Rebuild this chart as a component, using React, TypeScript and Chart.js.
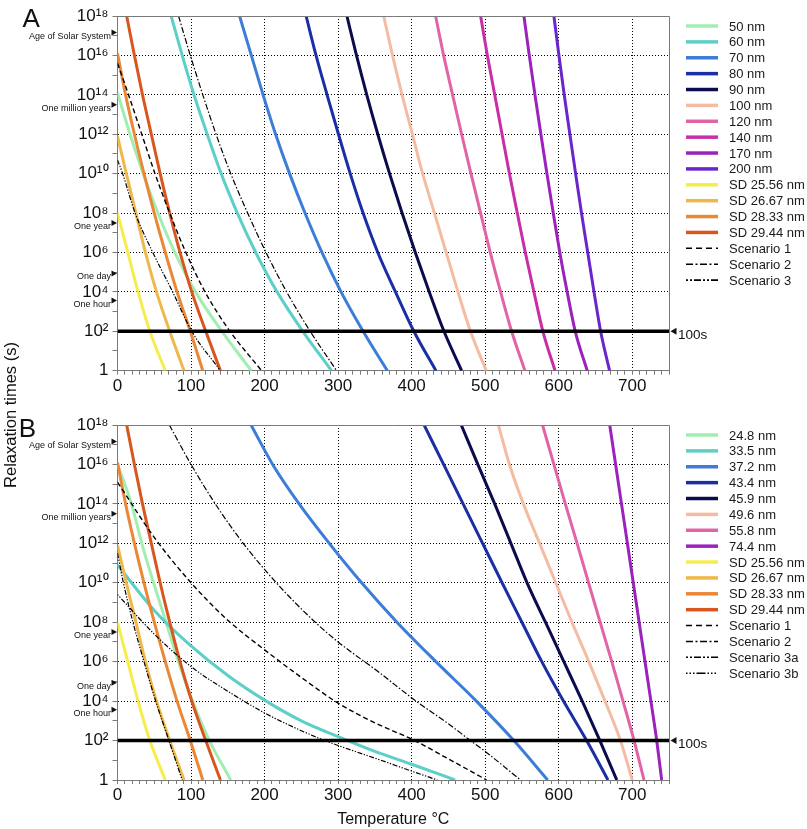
import React, { useEffect, useRef } from 'react';
import { Chart, registerables } from 'chart.js';

Chart.register(...registerables);

const FONT = "'Liberation Sans', Arial, Helvetica, sans-serif";

// ---- DATA: each curve is a list of [temperature °C, log10(relaxation time in s)] ----
// Single-domain (SD) curves, identical in both panels
const SD_25_56_NM = [[0, 8], [14, 6], [28, 4], [44, 2], [65, 0]];
const SD_26_67_NM = [[0, 11.9], [12, 10], [25, 8], [38, 6], [53, 4], [71, 2], [90.5, 0]];
const SD_28_33_NM = [[0, 16.1], [11, 14], [23, 12], [36, 10], [50, 8], [65, 6], [81, 4], [99, 2], [116, 0]];
const SD_29_44_NM = [[12.5, 18], [23, 16], [34, 14], [46, 12], [58, 10], [71, 8], [85, 6], [101, 4], [120, 2], [140, 0]];

// Panel A
const A_50_NM = [[0, 14.1], [17, 12], [35, 10], [55, 8], [78, 6], [106, 4], [142, 2], [182, 0]];
const A_60_NM = [[73, 18], [88, 16], [104, 14], [122, 12], [141, 10], [163, 8], [188, 6], [217, 4], [252, 2], [291, 0]];
const A_70_NM = [[166, 18], [182, 16], [198, 14], [215, 12], [234, 10], [255, 8], [278, 6], [304, 4], [334, 2], [367, 0]];
const A_80_NM = [[256.5, 18], [270, 16], [285, 14], [300.5, 12], [316.5, 10], [334, 8], [354, 6], [378, 4], [403, 2], [433, 0]];
const A_90_NM = [[312, 18], [325, 16], [339, 14], [354, 12], [370, 10], [387, 8], [405, 6], [424, 4], [444, 2], [468, 0]];
const A_100_NM = [[362, 18], [374, 16], [387, 14], [401, 12], [415, 10], [431, 8], [447, 6], [463, 4], [480, 2], [501.5, 0]];
const A_120_NM = [[432.6, 18], [443.5, 16], [455.7, 14], [468, 12], [480.7, 10], [493.8, 8], [506.9, 6], [521, 4], [536, 2], [554, 0]];
const A_140_NM = [[493.8, 18], [503, 16], [513, 14], [523, 12], [533, 10], [543.7, 8], [554.6, 6], [566.3, 4], [578.5, 2], [595, 0]];
const A_170_NM = [[552.7, 18], [560, 16], [567.7, 14], [575.8, 12], [584, 10], [592.6, 8], [601.5, 6], [611.5, 4], [622.5, 2], [638.8, 0]];
const A_200_NM = [[593.5, 18], [600.3, 16], [607.5, 14], [615.2, 12], [623, 10], [631, 8], [639.5, 6], [648, 4], [657, 2], [669.2, 0]];
const A_SCENARIO_1 = [[0, 15.6], [15, 14], [33, 12], [51, 10], [71, 8], [93, 6], [119, 4], [153, 2], [196, 0]];
const A_SCENARIO_2 = [[83, 18], [99, 16], [116, 14], [134, 12], [154, 10], [177, 8], [202, 6], [230, 4], [262, 2], [298, 0]];
const A_SCENARIO_3 = [[0, 10.7], [7, 10], [24, 8], [48, 6], [75, 4], [101, 2], [140, 0]];

// Panel B
const B_24_8_NM = [[0, 16], [19, 14], [33, 12], [49, 10], [66, 8], [83, 6], [102, 4], [125, 2], [154, 0]];
const B_33_5_NM = [[0, 10.9], [50, 8.6], [100, 6.8], [150, 5.3], [200, 4.05], [250, 3.0], [300, 2.2], [350, 1.45], [400, 0.8], [459, 0]];
const B_37_2_NM = [[181.6, 18], [211, 16], [247, 14], [288, 12], [332, 10], [380, 8], [433, 6], [488, 4], [539, 2], [585, 0]];
const B_43_4_NM = [[417, 18], [443.5, 16], [470, 14], [496.5, 12], [523, 10], [550, 8], [577, 6], [606.5, 4], [638, 2], [667, 0]];
const B_45_9_NM = [[467.5, 18], [490, 16], [513, 14], [535, 12], [557, 10], [582, 8], [607, 6], [632, 4], [656, 2], [679, 0]];
const B_49_6_NM = [[518, 18], [533, 16], [552, 14], [574, 12], [596, 10], [618, 8], [641, 6], [663, 4], [684, 2], [700, 0]];
const B_55_8_NM = [[578, 18], [593.5, 16], [609, 14], [625, 12], [640.6, 10], [656.4, 8], [672.2, 6], [687.5, 4], [702.5, 2], [716, 0]];
const B_74_4_NM = [[669.4, 18], [677.4, 16], [685.4, 14], [693.4, 12], [701.4, 10], [709.4, 8], [717.4, 6], [725.4, 4], [733.3, 2], [740, 0]];
const B_SCENARIO_1 = [[0, 15.1], [50, 12.3], [100, 10], [150, 8.1], [200, 6.6], [250, 5.2], [300, 3.9], [350, 2.9], [404, 2], [450, 1.07], [502, 0]];
const B_SCENARIO_2 = [[70.5, 18], [100, 16], [133, 14], [171, 12], [216, 10], [266, 8.1], [300, 7.0], [356, 5.45], [406, 4], [450, 2.85], [480, 2], [500, 1.45], [548, 0]];
const B_SCENARIO_3A = [[0, 11.5], [8, 10], [21, 8], [36, 6], [52, 4], [70, 2], [88, 0]];
const B_SCENARIO_3B = [[0, 9.4], [50, 7.4], [100, 5.75], [150, 4.5], [200, 3.4], [250, 2.5], [282, 2], [300, 1.75], [356, 1.03], [400, 0.45], [435, 0]];

// Axes
const X_MIN = 0;
const X_MAX = 750;
const X_LABEL_STEP = 100;
const X_MINOR_STEP = 10;
const Y_MIN = 1;
const Y_MAX = 1e18;
const Y_LABEL_EXPONENTS = [0, 2, 4, 6, 8, 10, 12, 14, 16, 18];
const Y_MINOR_EXPONENTS = [0, 1, 2, 3, 4, 5, 6, 7, 8, 9, 10, 11, 12, 13, 14, 15, 16, 17, 18];

// Reference times (s)
const MARKER_LABELS = ['Age of Solar System', 'One million years', 'One year', 'One day', 'One hour'];
const MARKER_SECONDS = [1.45e17, 3.156e13, 3.156e7, 86400, 3600];
const THRESHOLD_SECONDS = 100;
const THRESHOLD_LABEL = '100s';

// ---- STYLES ----
const C_MINT = '#a2eeb2';
const C_TURQ = '#5dcfc8';
const C_BLUE = '#3b7dd8';
const C_DBLUE = '#1a2ea6';
const C_NAVY = '#0c0b4e';
const C_PEACH = '#f4bca3';
const C_PINK = '#e264a7';
const C_MAGENTA = '#c92ea6';
const C_PURPLE = '#9b22bd';
const C_VIOLET = '#6b25cc';
const C_YELLOW = '#f6ed4a';
const C_GOLD = '#efb84a';
const C_ORANGE = '#ea8838';
const C_RED = '#d9561f';

type SeriesDef = { label: string; data: number[][]; color: string; width: number; dash: number[]; legendDash?: number[] };

const W = 3;
const DASH_1 = [5, 3];
const DASH_2 = [6, 2, 1.5, 2];
const DASH_3 = [5, 1.6, 1.3, 1.6, 1.3, 1.6];
const DASH_3B = [1.3, 1.6, 1.3, 1.6, 5, 1.6];

const SD_SERIES: SeriesDef[] = [
  { label: 'SD 25.56 nm', data: SD_25_56_NM, color: C_YELLOW, width: W, dash: [] },
  { label: 'SD 26.67 nm', data: SD_26_67_NM, color: C_GOLD, width: W, dash: [] },
  { label: 'SD 28.33 nm', data: SD_28_33_NM, color: C_ORANGE, width: W, dash: [] },
  { label: 'SD 29.44 nm', data: SD_29_44_NM, color: C_RED, width: W, dash: [] },
];

const PANEL_A: SeriesDef[] = [
  { label: '50 nm', data: A_50_NM, color: C_MINT, width: W, dash: [] },
  { label: '60 nm', data: A_60_NM, color: C_TURQ, width: W, dash: [] },
  { label: '70 nm', data: A_70_NM, color: C_BLUE, width: W, dash: [] },
  { label: '80 nm', data: A_80_NM, color: C_DBLUE, width: W, dash: [] },
  { label: '90 nm', data: A_90_NM, color: C_NAVY, width: W, dash: [] },
  { label: '100 nm', data: A_100_NM, color: C_PEACH, width: W, dash: [] },
  { label: '120 nm', data: A_120_NM, color: C_PINK, width: W, dash: [] },
  { label: '140 nm', data: A_140_NM, color: C_MAGENTA, width: W, dash: [] },
  { label: '170 nm', data: A_170_NM, color: C_PURPLE, width: W, dash: [] },
  { label: '200 nm', data: A_200_NM, color: C_VIOLET, width: W, dash: [] },
  ...SD_SERIES,
  { label: 'Scenario 1', data: A_SCENARIO_1, color: '#000', width: 1.4, dash: DASH_1, legendDash: [6, 4] },
  { label: 'Scenario 2', data: A_SCENARIO_2, color: '#000', width: 1.2, dash: DASH_2, legendDash: [7, 2.5, 2, 2.5] },
  { label: 'Scenario 3', data: A_SCENARIO_3, color: '#000', width: 1.2, dash: DASH_3, legendDash: [2, 2, 2, 2, 7, 2] },
];

const PANEL_B: SeriesDef[] = [
  { label: '24.8 nm', data: B_24_8_NM, color: C_MINT, width: W, dash: [] },
  { label: '33.5 nm', data: B_33_5_NM, color: C_TURQ, width: W, dash: [] },
  { label: '37.2 nm', data: B_37_2_NM, color: C_BLUE, width: W, dash: [] },
  { label: '43.4 nm', data: B_43_4_NM, color: C_DBLUE, width: W, dash: [] },
  { label: '45.9 nm', data: B_45_9_NM, color: C_NAVY, width: W, dash: [] },
  { label: '49.6 nm', data: B_49_6_NM, color: C_PEACH, width: W, dash: [] },
  { label: '55.8 nm', data: B_55_8_NM, color: C_PINK, width: W, dash: [] },
  { label: '74.4 nm', data: B_74_4_NM, color: C_PURPLE, width: W, dash: [] },
  ...SD_SERIES,
  { label: 'Scenario 1', data: B_SCENARIO_1, color: '#000', width: 1.4, dash: DASH_1, legendDash: [6, 4] },
  { label: 'Scenario 2', data: B_SCENARIO_2, color: '#000', width: 1.2, dash: DASH_2, legendDash: [7, 2.5, 2, 2.5] },
  { label: 'Scenario 3a', data: B_SCENARIO_3A, color: '#000', width: 1.2, dash: DASH_3, legendDash: [2, 2, 2, 2, 7, 2] },
  { label: 'Scenario 3b', data: B_SCENARIO_3B, color: '#000', width: 1.2, dash: DASH_3B, legendDash: [1.5, 2, 1.5, 2, 1.5, 2, 9, 2] },
];

const SUP = '⁰¹²³⁴⁵⁶⁷⁸⁹';
function expOf(v: number) {
  return Math.round(Math.log10(v));
}
function powerLabel(v: number): string {
  const e = expOf(v);
  if (!Y_LABEL_EXPONENTS.includes(e)) return '';
  if (e === 0) return '1';
  return '10' + String(e).split('').map((d) => SUP[Number(d)]).join('');
}

type PanelCfg = { padTop: number; xAxisHeight: number; xTitle?: string; legendFirstY: number };

const LEGEND_STEP = 15.88;

function overlayPlugin(series: SeriesDef[], cfg: PanelCfg) {
  return {
    id: 'overlay',
    afterDraw(chart: any) {
      const { ctx, chartArea: a, scales } = chart;
      const ys = scales.y;
      ctx.save();
      ctx.setLineDash([]);
      // frame (top and right)
      ctx.strokeStyle = '#7a7a7a';
      ctx.lineWidth = 1;
      ctx.beginPath();
      const top = Math.round(a.top) + 0.5;
      const right = Math.round(a.right) + 0.5;
      ctx.moveTo(a.left, top);
      ctx.lineTo(right, top);
      ctx.lineTo(right, a.bottom);
      ctx.stroke();

      // reference time markers
      ctx.fillStyle = '#111';
      ctx.font = `9px ${FONT}`;
      ctx.textAlign = 'right';
      ctx.textBaseline = 'middle';
      MARKER_SECONDS.forEach((s, i) => {
        const py = ys.getPixelForValue(s);
        ctx.beginPath();
        ctx.moveTo(a.left - 0.5, py);
        ctx.lineTo(a.left - 6, py - 3);
        ctx.lineTo(a.left - 6, py + 3);
        ctx.closePath();
        ctx.fill();
        ctx.fillText(MARKER_LABELS[i], a.left - 6.5, py + 3.5);
      });

      // 100 s threshold label
      const ty = ys.getPixelForValue(THRESHOLD_SECONDS);
      ctx.beginPath();
      ctx.moveTo(a.right + 1.5, ty);
      ctx.lineTo(a.right + 7.5, ty - 3.5);
      ctx.lineTo(a.right + 7.5, ty + 3.5);
      ctx.closePath();
      ctx.fill();
      ctx.font = `13.5px ${FONT}`;
      ctx.textAlign = 'left';
      ctx.fillText(THRESHOLD_LABEL, a.right + 9, ty + 3.5);

      // legend
      const lx0 = a.right + 17;
      const lx1 = a.right + 49;
      const tx = a.right + 60;
      ctx.font = `13px ${FONT}`;
      series.forEach((s, i) => {
        const y = cfg.legendFirstY + i * LEGEND_STEP;
        ctx.beginPath();
        ctx.setLineDash(s.legendDash ?? s.dash);
        ctx.lineWidth = s.dash.length ? 1.6 : 3.5;
        ctx.strokeStyle = s.color;
        ctx.moveTo(lx0, y);
        ctx.lineTo(lx1, y);
        ctx.stroke();
        ctx.setLineDash([]);
        ctx.fillStyle = '#1a1a1a';
        ctx.fillText(s.label, tx, y + 1);
      });
      ctx.restore();
    },
  };
}

function makeChart(canvas: HTMLCanvasElement, series: SeriesDef[], cfg: PanelCfg) {
  const datasets: any[] = [
    {
      label: THRESHOLD_LABEL,
      data: [
        { x: X_MIN, y: THRESHOLD_SECONDS },
        { x: X_MAX, y: THRESHOLD_SECONDS },
      ],
      borderColor: '#000',
      borderWidth: 3.5,
      pointRadius: 0,
      tension: 0,
      fill: false,
    },
    ...[...series].reverse().map((s) => ({
      label: s.label,
      data: s.data.map(([t, e]) => ({ x: t, y: Math.pow(10, e) })),
      borderColor: s.color,
      backgroundColor: s.color,
      borderWidth: s.width,
      borderDash: s.dash,
      pointRadius: 0,
      cubicInterpolationMode: 'monotone',
      fill: false,
    })),
  ];

  const tickFont = { family: FONT, size: 17 };

  return new Chart(canvas, {
    type: 'line',
    data: { datasets },
    options: {
      animation: false,
      responsive: false,
      devicePixelRatio: 1,
      events: [],
      layout: { padding: { top: cfg.padTop, right: 138, bottom: 0, left: 0 } },
      plugins: { legend: { display: false }, tooltip: { enabled: false }, title: { display: false } },
      scales: {
        x: {
          type: 'linear',
          min: X_MIN,
          max: X_MAX,
          afterFit: (s: any) => {
            s.height = cfg.xAxisHeight;
          },
          ticks: {
            stepSize: X_MINOR_STEP,
            autoSkip: false,
            maxRotation: 0,
            minRotation: 0,
            padding: 1,
            color: '#111',
            font: tickFont,
            callback: (v: any) => (Number(v) % X_LABEL_STEP === 0 ? String(v) : ''),
          },
          grid: {
            color: (c: any) => {
              const v = c.tick ? c.tick.value : 0;
              return v > X_MIN && v < X_MAX && v % X_LABEL_STEP === 0 ? '#000' : 'rgba(0,0,0,0)';
            },
            lineWidth: 1,
            tickColor: '#7a7a7a',
            tickLength: 4,
          },
          border: { display: true, color: '#7a7a7a', width: 1, dash: [1, 2] },
          title: cfg.xTitle
            ? { display: true, text: cfg.xTitle, color: '#111', font: { family: FONT, size: 16 }, padding: { top: 0, bottom: 0 } }
            : { display: false },
        },
        y: {
          type: 'logarithmic',
          min: Y_MIN,
          max: Y_MAX,
          afterBuildTicks: (s: any) => {
            s.ticks = Y_MINOR_EXPONENTS.map((e) => ({ value: Math.pow(10, e) }));
          },
          afterFit: (s: any) => {
            s.width = 117.5;
          },
          ticks: {
            autoSkip: false,
            padding: 4,
            color: '#111',
            font: tickFont,
            callback: (v: any) => powerLabel(Number(v)),
          },
          grid: {
            color: (c: any) => {
              const e = c.tick ? expOf(c.tick.value) : 0;
              return e > 0 && e < 18 && e % 2 === 0 ? '#000' : 'rgba(0,0,0,0)';
            },
            lineWidth: 1,
            tickColor: '#7a7a7a',
            tickLength: 5,
          },
          border: { display: true, color: '#7a7a7a', width: 1, dash: [1, 2] },
        },
      },
    } as any,
    plugins: [overlayPlugin(series, cfg)],
  });
}

export default function App() {
  const refA = useRef<HTMLCanvasElement | null>(null);
  const refB = useRef<HTMLCanvasElement | null>(null);

  useEffect(() => {
    const a = makeChart(refA.current!, PANEL_A, { padTop: 16, xAxisHeight: 29.3, legendFirstY: 26 });
    const b = makeChart(refB.current!, PANEL_B, { padTop: 15, xAxisHeight: 49, xTitle: 'Temperature °C', legendFirstY: 25 });
    return () => {
      a.destroy();
      b.destroy();
    };
  }, []);

  return (
    <div style={{ position: 'absolute', left: 0, top: 0, width: 807, height: 829, background: '#fff', fontFamily: FONT, overflow: 'hidden' }}>
      <canvas ref={refA} width={807} height={400} style={{ position: 'absolute', left: 0, top: 0, width: 807, height: 400 }} />
      <canvas ref={refB} width={807} height={419} style={{ position: 'absolute', left: 0, top: 410, width: 807, height: 419 }} />
      <div style={{ position: 'absolute', left: 22.5, top: 5, fontSize: 26, lineHeight: '26px', color: '#111' }}>A</div>
      <div style={{ position: 'absolute', left: 18.7, top: 415, fontSize: 26, lineHeight: '26px', color: '#111' }}>B</div>
      <div
        style={{
          position: 'absolute',
          left: 9.5,
          top: 415,
          fontSize: 16.5,
          lineHeight: '16.5px',
          whiteSpace: 'nowrap',
          color: '#111',
          transform: 'translate(-50%, -50%) rotate(-90deg)',
        }}
      >
        Relaxation times (s)
      </div>
    </div>
  );
}
